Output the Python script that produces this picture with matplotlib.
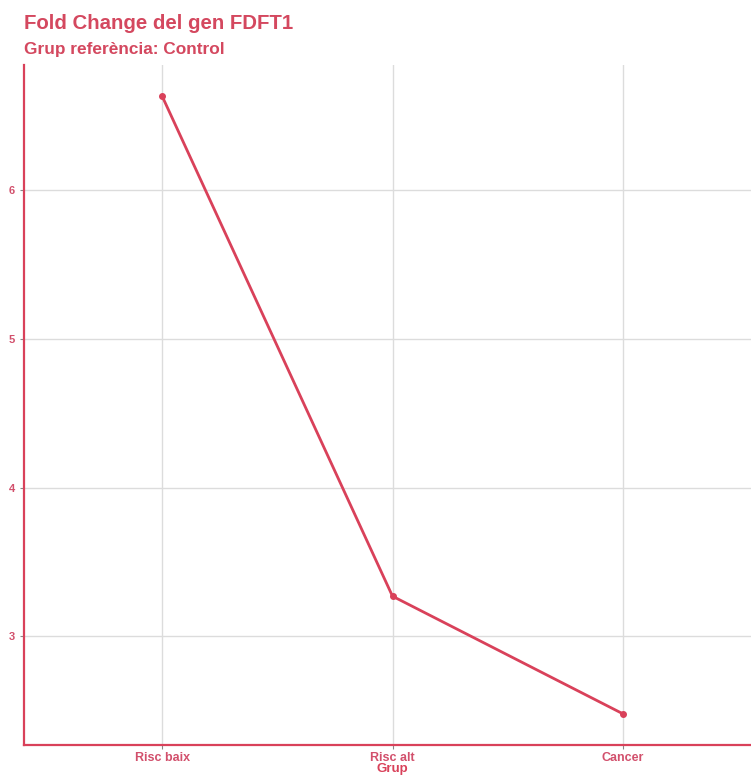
import matplotlib
matplotlib.use("Agg")
import matplotlib.pyplot as plt

categories = ["Risc baix", "Risc alt", "Cancer"]
fold_change = [6.63, 3.27, 2.48]
y_ticks = [3, 4, 5, 6]

red = "#d9415a"
tick_red = "#d2506c"

plt.rcParams['font.family'] = ['Liberation Sans', 'DejaVu Sans']

W, H = 751, 775
fig = plt.figure(figsize=(W/100, H/100), dpi=100)
ax = fig.add_axes([24/W, (H-745)/H, (761-24)/W, (745-65)/H])

x = list(range(len(categories)))
ax.plot(x, fold_change, color=red, lw=2, marker='o', ms=4, zorder=3)
ax.set_xlim(-0.6, len(categories) - 1 + 0.6)
ax.set_ylim(2.27, 6.84)
ax.set_xticks(x)
ax.set_xticklabels(categories)
ax.set_yticks(y_ticks)
ax.grid(True, color="#dcdcdc", lw=1)
ax.set_axisbelow(True)
for s in ["top", "right"]:
    ax.spines[s].set_visible(False)
for s in ["left", "bottom"]:
    ax.spines[s].set_color(red)
    ax.spines[s].set_linewidth(1.6)
ax.tick_params(axis='both', colors="#888888", length=3, width=0.8, labelcolor=tick_red)
ax.tick_params(axis='x', pad=2)
for lab in ax.get_xticklabels():
    lab.set_fontsize(9)
    lab.set_fontweight('bold')
for lab in ax.get_yticklabels():
    lab.set_fontsize(8)
    lab.set_fontweight('bold')

fig.text(24/W, 1 - 29/H, "Fold Change del gen FDFT1", color="#d4485f",
         fontsize=14.7, fontweight='bold', ha='left', va='baseline')
fig.text(24/W, 1 - 54/H, "Grup referència: Control", color="#d4485f",
         fontsize=12.4, fontweight='bold', ha='left', va='baseline')
fig.text(392/W, 1 - 775/H, "Grup", color=red, fontsize=9.5, fontweight='bold',
         ha='center', va='bottom')

fig.savefig("out.png", dpi=100)
